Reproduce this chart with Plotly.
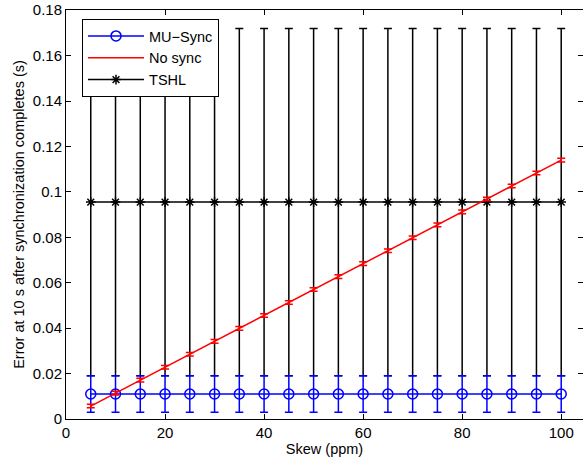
import plotly.graph_objects as go

skew = [5, 10, 15, 20, 25, 30, 35, 40, 45, 50, 55, 60, 65, 70, 75, 80, 85, 90, 95, 100]
mu_sync = [0.011] * 20
mu_sync_err = [0.008] * 20
no_sync = [0.0057, 0.0114, 0.0171, 0.0228, 0.0285, 0.0342, 0.0399, 0.0456, 0.0513, 0.057,
           0.0627, 0.0684, 0.0741, 0.0798, 0.0855, 0.0912, 0.0969, 0.1026, 0.1083, 0.114]
no_sync_err = [0.0008] * 20
tshl = [0.0955] * 20
tshl_err = [0.0765] * 20

FONT = "Liberation Sans, Arial, Helvetica"

fig = go.Figure()
fig.add_trace(go.Scatter(
    x=skew, y=tshl, name="TSHL", mode="lines+markers", legendrank=3,
    line=dict(color="black", width=1.5),
    marker=dict(symbol="asterisk-open", size=8, color="black", line=dict(color="black", width=1.5)),
    error_y=dict(type="data", array=tshl_err, color="black", thickness=1.5, width=4),
))
fig.add_trace(go.Scatter(
    x=skew, y=mu_sync, name="MU\u2212Sync", mode="lines+markers", legendrank=1,
    line=dict(color="blue", width=1.5),
    marker=dict(symbol="circle-open", size=10, color="blue", line=dict(color="blue", width=1.5)),
    error_y=dict(type="data", array=mu_sync_err, color="blue", thickness=1.5, width=4),
))
fig.add_trace(go.Scatter(
    x=skew, y=no_sync, name="No sync", mode="lines", legendrank=2,
    line=dict(color="red", width=1.5),
    error_y=dict(type="data", array=no_sync_err, color="red", thickness=1.5, width=4),
))

axis_common = dict(
    showline=True, linecolor="black", linewidth=1, mirror="ticks", automargin=False,
    ticks="inside", ticklen=5, tickcolor="black", showgrid=False, zeroline=False,
    tickfont=dict(family=FONT, size=15, color="black"),
)
fig.update_xaxes(range=[0, 104.4], tickvals=[0, 20, 40, 60, 80, 100],
                 title=dict(text="Skew (ppm)", standoff=2,
                            font=dict(family=FONT, size=14.5, color="black")),
                 **axis_common)
fig.update_yaxes(range=[0, 0.1801], tickvals=[0, 0.02, 0.04, 0.06, 0.08, 0.1, 0.12, 0.14, 0.16, 0.18],
                 ticktext=["0", "0.02", "0.04", "0.06", "0.08", "0.1", "0.12", "0.14", "0.16", "0.18"],
                 title=dict(text="Error at 10 s after synchronization completes (s)", standoff=4,
                            font=dict(family=FONT, size=14.5, color="black")),
                 **axis_common)
fig.update_layout(
    width=583, height=466,
    margin=dict(l=66, r=0, t=10, b=47),
    plot_bgcolor="white", paper_bgcolor="white",
    legend=dict(x=0.031, y=0.978, xanchor="left", yanchor="top",
                bordercolor="black", borderwidth=1, bgcolor="white",
                font=dict(family=FONT, size=14.5, color="black"),
                itemwidth=56, tracegroupgap=0),
)
fig.write_html("out.html", config={"displayModeBar": False},
               post_script="document.body.style.margin='0';")
